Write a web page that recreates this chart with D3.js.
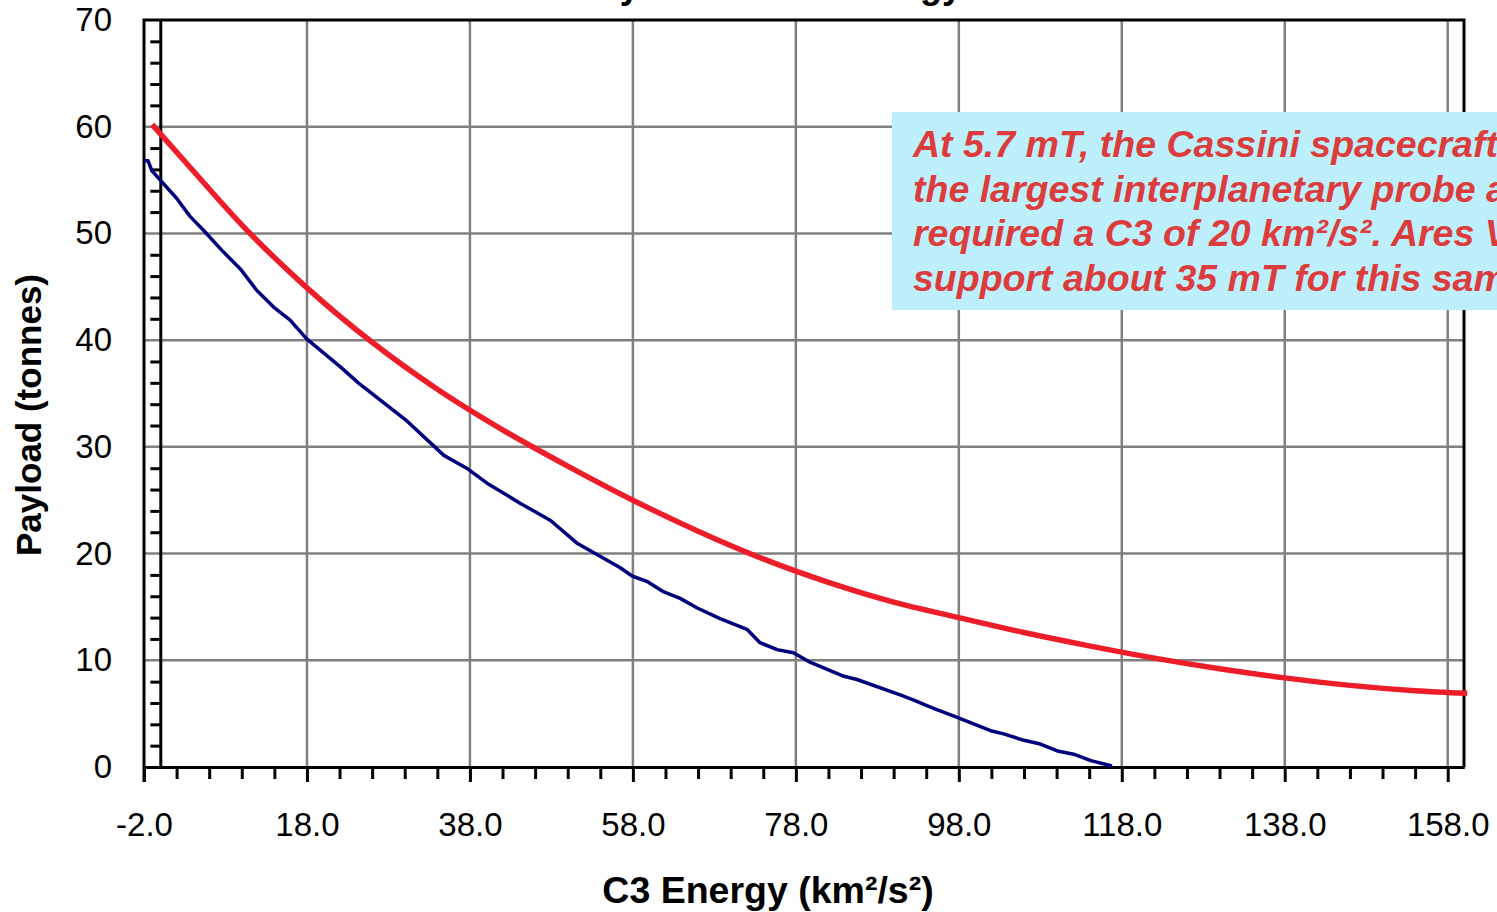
<!DOCTYPE html>
<html>
<head>
<meta charset="utf-8">
<script src="https://cdn.jsdelivr.net/npm/d3@7"></script>
<style>
  body { margin: 0; background: #fff; }
  svg { display: block; font-family: "Liberation Sans", Arial, sans-serif; }
</style>
</head>
<body>
<svg id="chart"></svg>
<script>
// C3 energy (km2/s2) vs payload (tonnes)
var redC3 = [-1, 4, 10, 18, 26, 34, 42, 50, 58, 66, 74, 82, 90, 98,
             106, 114, 122, 130, 138, 146, 154, 160.4];
var redPayload = [60.2, 55.9, 50.8, 44.9, 39.8, 35.4, 31.6, 28.2, 25.0, 22.1, 19.5, 17.3, 15.45, 14.0,
                  12.6, 11.35, 10.2, 9.2, 8.35, 7.65, 7.15, 6.9];

var blueC3 = [-2.0, -1.5, -1.05, 0.0, 2.0, 3.65, 5.3, 7.7, 9.8, 11.8, 13.9, 15.9, 18.0, 22.1, 24.3, 30.3, 34.8, 37.6,
              40.1, 44.2, 47.9, 51.1, 56.4, 57.9, 59.7, 61.8, 63.8, 65.9, 68.7, 72.0, 73.6, 75.7, 77.7, 79.8, 83.9,
              85.5, 90.8, 92.4, 94.9, 97.8, 101.9, 103.5, 106.0, 108.0, 110.1, 112.1, 114.2, 116.8];
var bluePayload = [56.8, 56.8, 55.9, 55.0, 53.3, 51.6, 50.3, 48.3, 46.7, 44.7, 43.1, 41.9, 40.1, 37.5, 36.0, 32.4, 29.2, 28.0,
                   26.6, 24.7, 23.1, 21.0, 18.7, 17.9, 17.4, 16.4, 15.8, 14.9, 13.9, 12.9, 11.65, 11.0, 10.7, 9.8, 8.5,
                   8.2, 6.75, 6.3, 5.5, 4.65, 3.4, 3.1, 2.5, 2.15, 1.5, 1.2, 0.6, 0.1];

var xMajorTicks = [-2, 18, 38, 58, 78, 98, 118, 138, 158];
var xMinorTicks = [2, 6, 10, 14, 22, 26, 30, 34, 42, 46, 50, 54, 62, 66, 70, 74, 82, 86, 90, 94,
                   102, 106, 110, 114, 122, 126, 130, 134, 142, 146, 150, 154];
var yMajorTicks = [0, 10, 20, 30, 40, 50, 60, 70];
var yMinorTicks = [2, 4, 6, 8, 12, 14, 16, 18, 22, 24, 26, 28, 32, 34, 36, 38, 42, 44, 46, 48,
                   52, 54, 56, 58, 62, 64, 66, 68];

var noteLines = ["At 5.7 mT, the Cassini spacecraft was",
                 "the largest interplanetary probe and",
                 "required a C3 of 20 km\u00b2/s\u00b2. Ares V can",
                 "support about 35 mT for this same C3."];

var width = 1497, height = 912;
var plotLeft = 144, plotRight = 1464, plotTop = 20, plotBottom = 767;

var svg = d3.select("#chart").attr("width", width).attr("height", height);

var x = d3.scaleLinear().domain([-2, 160]).range([plotLeft, plotRight]);
var y = d3.scaleLinear().domain([0, 70]).range([plotBottom, plotTop]);

// title, mostly above the page
svg.append("text")
    .attr("x", 962).attr("y", -2.5)
    .attr("text-anchor", "end")
    .attr("font-size", 36).attr("font-weight", "bold")
    .text("Payload vs. C3 Energy");

// grid
svg.append("g").selectAll("line")
    .data(xMajorTicks.slice(1))
    .enter().append("line")
      .attr("x1", function(d){ return x(d); }).attr("x2", function(d){ return x(d); })
      .attr("y1", plotTop).attr("y2", plotBottom)
      .attr("stroke", "#808080").attr("stroke-width", 2.5);
svg.append("g").selectAll("line")
    .data(yMajorTicks.slice(1, -1))
    .enter().append("line")
      .attr("x1", plotLeft).attr("x2", plotRight)
      .attr("y1", function(d){ return y(d); }).attr("y2", function(d){ return y(d); })
      .attr("stroke", "#808080").attr("stroke-width", 2.5);

// x axis: major + minor ticks
svg.append("g")
    .attr("transform", "translate(0," + plotBottom + ")")
    .call(d3.axisBottom(x).tickValues(xMajorTicks).tickFormat(function(d){ return d.toFixed(1); })
          .tickSize(15).tickSizeOuter(0).tickPadding(31));
svg.append("g")
    .attr("transform", "translate(0," + plotBottom + ")")
    .call(d3.axisBottom(x).tickValues(xMinorTicks).tickFormat("").tickSize(12).tickSizeOuter(0));

// y axis sits at C3 = 0, minor ticks only
svg.append("g")
    .attr("transform", "translate(" + x(0) + ",0)")
    .call(d3.axisLeft(y).tickValues(yMinorTicks).tickFormat("").tickSize(10).tickSizeOuter(0));
var yAxis = svg.append("g")
    .attr("transform", "translate(" + plotLeft + ",0)")
    .call(d3.axisLeft(y).tickValues(yMajorTicks).tickSize(0).tickPadding(32));

svg.selectAll(".domain").attr("stroke", "#000").attr("stroke-width", 3);
svg.selectAll(".tick line").attr("stroke", "#000").attr("stroke-width", 3);
svg.selectAll(".tick text").attr("font-size", 33).attr("fill", "#000")
    .attr("font-family", "'Liberation Sans', Arial, sans-serif");
yAxis.select(".domain").remove();

// frame
svg.append("path")
    .attr("d", "M" + plotLeft + "," + (plotBottom + 15) + "V" + plotTop + "H" + plotRight + "V" + plotBottom)
    .attr("fill", "none").attr("stroke", "#000").attr("stroke-width", 3);

// series
var redData = redC3.map(function(c, i){ return [c, redPayload[i]]; });
var blueData = blueC3.map(function(c, i){ return [c, bluePayload[i]]; });

svg.append("path").datum(blueData)
    .attr("fill", "none").attr("stroke", "#00007f").attr("stroke-width", 3.5)
    .attr("stroke-linejoin", "round")
    .attr("d", d3.line().x(function(d){ return x(d[0]); }).y(function(d){ return y(d[1]); }));

svg.append("path").datum(redData)
    .attr("fill", "none").attr("stroke", "#ee1d2a").attr("stroke-width", 5.5)
    .attr("d", d3.line().curve(d3.curveMonotoneX)
          .x(function(d){ return x(d[0]); }).y(function(d){ return y(d[1]); }));

// axis titles
svg.append("text")
    .attr("x", 768).attr("y", 903)
    .attr("text-anchor", "middle")
    .attr("font-size", 37.5).attr("font-weight", "bold")
    .text("C3 Energy (km\u00b2/s\u00b2)");
svg.append("text")
    .attr("transform", "translate(41,415) rotate(-90)")
    .attr("text-anchor", "middle")
    .attr("font-size", 35).attr("font-weight", "bold")
    .text("Payload (tonnes)");

// note box
var note = svg.append("g");
note.append("rect")
    .attr("x", 892).attr("y", 112).attr("width", 700).attr("height", 198)
    .attr("fill", "#bdf0fc");
note.selectAll("text")
    .data(noteLines)
    .enter().append("text")
      .attr("x", 913)
      .attr("y", function(d, i){ return 157 + i * 44.5; })
      .attr("font-size", 37.5).attr("font-weight", "bold").attr("font-style", "italic")
      .attr("fill", "#dc3c3c")
      .text(function(d){ return d; });
</script>
</body>
</html>
